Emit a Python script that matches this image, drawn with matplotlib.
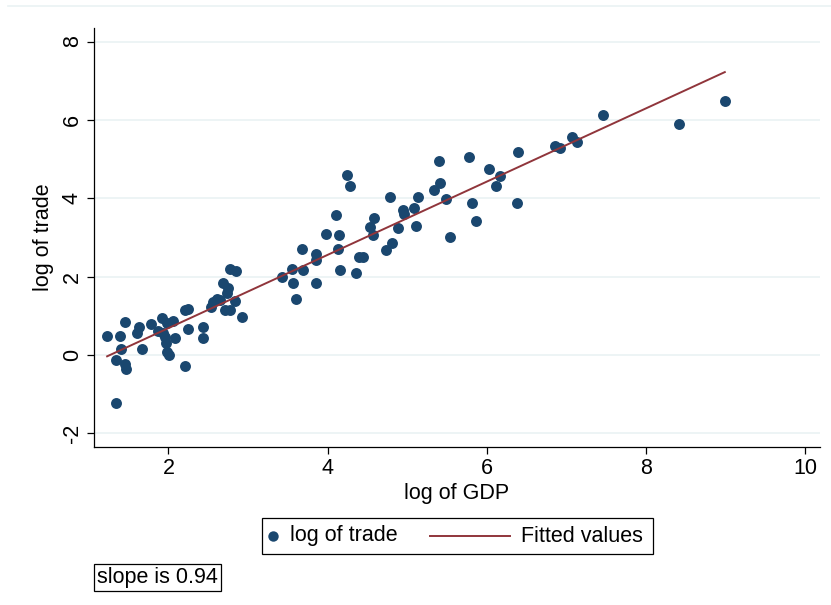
import matplotlib
matplotlib.use('Agg')
import matplotlib.pyplot as plt
from matplotlib.lines import Line2D
from matplotlib.patches import Rectangle
import numpy as np

# log of GDP / log of trade
log_gdp = [1.23, 1.39, 1.46, 1.41, 1.34, 1.46, 1.47, 1.34, 1.63, 1.61,
           1.67, 1.78, 1.92, 1.87, 1.98, 2.06, 1.96, 2.08, 1.97, 1.98,
           2.01, 2.21, 2.25, 2.25, 2.21, 2.44, 2.44, 2.56, 2.61, 2.69,
           2.75, 2.71, 2.77, 2.93, 2.77, 2.85, 2.73, 2.84, 1.93, 2.54,
           2.65,
           3.43, 3.55, 3.56, 3.60, 3.68, 3.69, 3.85, 3.86, 3.86, 3.98,
           4.14, 4.13, 4.16, 4.36, 4.40, 4.44, 4.53, 4.57, 4.58, 4.24,
           4.28, 4.11, 4.79, 4.89, 4.95, 4.96, 5.09, 5.11, 5.13, 4.81,
           4.73, 5.40, 5.41, 5.34, 5.49, 5.54, 5.77, 5.81, 5.86, 6.03,
           6.17, 6.11, 6.39, 6.38, 6.86, 6.92, 7.07, 7.13, 7.46, 8.41,
           8.99]
log_trade = [0.48, 0.48, 0.83, 0.14, -0.12, -0.23, -0.37, -1.22, 0.70, 0.55,
             0.16, 0.79, 0.94, 0.61, 0.81, 0.86, 0.46, 0.42, 0.30, 0.08,
             0.01, 1.15, 1.17, 0.65, -0.28, 0.71, 0.42, 1.35, 1.44, 1.84,
             1.71, 1.15, 1.15, 0.97, 2.19, 2.14, 1.57, 1.38, 0.56, 1.23,
             1.40,
             2.00, 2.19, 1.84, 1.43, 2.70, 2.17, 2.57, 2.42, 1.83, 3.09,
             3.07, 2.70, 2.17, 2.08, 2.49, 2.51, 3.27, 3.06, 3.49, 4.59,
             4.32, 3.57, 4.04, 3.24, 3.70, 3.61, 3.74, 3.28, 4.02, 2.85,
             2.67, 4.95, 4.39, 4.21, 3.98, 3.00, 5.06, 3.89, 3.42, 4.74,
             4.57, 4.31, 5.18, 3.88, 5.33, 5.27, 5.57, 5.44, 6.12, 5.89,
             6.49]

x_ticks = [2, 4, 6, 8, 10]
y_ticks = [-2, 0, 2, 4, 6, 8]

NAVY = '#1A476F'
MAROON = '#90353B'
GRID = '#EAF2F3'
FS = 15.5

plt.rcParams['font.family'] = ['Liberation Sans', 'DejaVu Sans']
plt.rcParams['axes.unicode_minus'] = False

x = np.array(log_gdp)
y = np.array(log_trade)
b, a = np.polyfit(x, y, 1)
xs = np.sort(x)
fitted = a + b * xs

W, H = 831, 605
fig = plt.figure(figsize=(W / 100, H / 100), dpi=100)
fig.patch.set_facecolor('white')
ax = fig.add_axes([94 / W, 1 - 447 / H, 726 / W, 419 / H])

ax.scatter(x, y, s=62, color=NAVY, linewidths=0, zorder=3)
ax.plot(xs, fitted, color=MAROON, lw=1.4, zorder=4)

ax.set_xlim(1.065, 10.186)
ax.set_ylim(-2.351, 8.346)
ax.set_xticks(x_ticks)
ax.set_yticks(y_ticks)
ax.grid(axis='y', color=GRID, lw=1.2, zorder=0)
ax.set_axisbelow(True)
ax.spines['top'].set_visible(False)
ax.spines['right'].set_visible(False)
for s in ('left', 'bottom'):
    ax.spines[s].set_linewidth(0.9)
ax.tick_params(axis='both', direction='out', length=5, width=0.9, labelsize=FS, pad=3)
ax.tick_params(axis='y', labelrotation=90)
for lab in ax.get_yticklabels():
    lab.set_va('center')

ax.set_xlabel('log of GDP', fontsize=FS, labelpad=3)
ax.set_ylabel('log of trade', fontsize=FS, labelpad=6)

# legend box, Stata style: marker hugging the left, long line key
def fx(px):
    return px / W

def fy(py):
    return 1 - py / H

fig.add_artist(Rectangle((fx(262), fy(554)), 391 / W, 36 / H, fill=False,
                         edgecolor='black', lw=0.9, transform=fig.transFigure))
fig.add_artist(Line2D([fx(273)], [fy(536)], marker='o', ls='none', color=NAVY,
                      markersize=7.5, markeredgewidth=0, transform=fig.transFigure))
fig.text(fx(290), fy(536), 'log of trade', fontsize=FS, va='center', ha='left')
fig.add_artist(Line2D([fx(430), fx(510)], [fy(536), fy(536)], color=MAROON, lw=1.4,
                      transform=fig.transFigure))
fig.text(fx(521), fy(536), 'Fitted values', fontsize=FS, va='center', ha='left')

fig.text(fx(97), fy(577.5), 'slope is 0.94', fontsize=FS, va='center', ha='left',
         bbox=dict(boxstyle='square,pad=0.15', facecolor='white', edgecolor='black', lw=0.9))

fig.add_artist(Line2D([0.01, 1.0], [0.99, 0.99], color=GRID, lw=1.2, transform=fig.transFigure))

fig.savefig('out.png', dpi=100, facecolor='white')
